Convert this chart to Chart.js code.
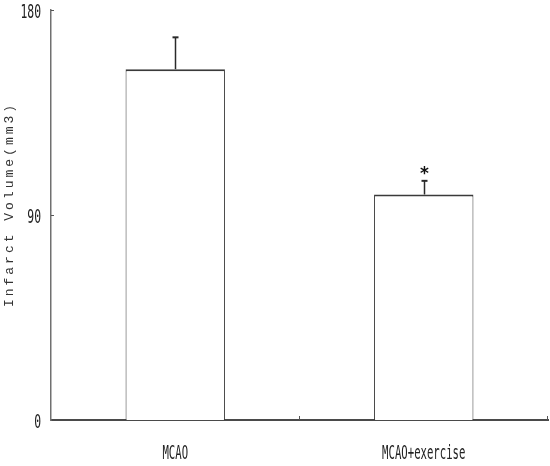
<!DOCTYPE html>
<html><head><meta charset="utf-8">
<script src="https://cdn.jsdelivr.net/npm/chart.js@4"></script>
<style>html,body{margin:0;padding:0;background:#fff;} canvas{display:block;}</style>
</head><body>
<canvas id="c" width="550" height="466"></canvas>
<script>
const categories = ["MCAO", "MCAO+exercise"];
const infarctVolume = [154, 99];
const errorSD = [14, 6];
const significance = ["", "*"];
const yTickValues = [0, 90, 180];
const yTitle = "Infarct Volume(mm3)";

const NARROW_FONT = "19px 'DejaVu Sans Mono', 'Liberation Mono', monospace";
const TITLE_FONT = "13px 'Liberation Mono', 'DejaVu Sans Mono', monospace";

function condensedText(ctx, text, x, y, sx, align) {
  ctx.save();
  ctx.translate(x, y);
  ctx.scale(sx, 1);
  ctx.textAlign = align;
  ctx.fillText(text, 0, 0);
  ctx.restore();
}

const decor = {
  id: 'decor',
  afterDatasetsDraw(chart) {
    const ctx = chart.ctx, xs = chart.scales.x, ys = chart.scales.y;
    ctx.save();
    ctx.strokeStyle = '#2a2a2a';
    categories.forEach((c, i) => {
      const x = Math.round(xs.getPixelForValue(i)) + 0.5;
      const yTop = ys.getPixelForValue(infarctVolume[i]);
      const yErr = ys.getPixelForValue(infarctVolume[i] + errorSD[i]);
      ctx.lineWidth = 1.5;
      ctx.beginPath(); ctx.moveTo(x, yTop); ctx.lineTo(x, yErr); ctx.stroke();
      ctx.lineWidth = 2;
      ctx.beginPath(); ctx.moveTo(x - 3, yErr); ctx.lineTo(x + 3, yErr); ctx.stroke();
      if (significance[i]) {
        ctx.fillStyle = '#111';
        ctx.font = "bold 17px 'DejaVu Sans', sans-serif";
        ctx.textAlign = 'center';
        ctx.textBaseline = 'alphabetic';
        const m = ctx.measureText(significance[i]);
        const cy = yErr - 10;
        const base = cy + (m.actualBoundingBoxAscent - m.actualBoundingBoxDescent) / 2;
        ctx.fillText(significance[i], x, base);
      }
    });
    ctx.restore();
  },
  afterDraw(chart) {
    const ctx = chart.ctx, xs = chart.scales.x, ys = chart.scales.y, area = chart.chartArea;
    ctx.save();
    // y tick marks (inside) and labels
    ctx.strokeStyle = '#555'; ctx.lineWidth = 1;
    ctx.fillStyle = '#222'; ctx.font = NARROW_FONT; ctx.textBaseline = 'middle';
    yTickValues.forEach(v => {
      const y = Math.round(ys.getPixelForValue(v)) + 0.5;
      if (v !== 0) { ctx.beginPath(); ctx.moveTo(area.left, y); ctx.lineTo(area.left + 3, y); ctx.stroke(); }
      condensedText(ctx, String(v), area.left - 10, y + 2.5, 0.6, 'right');
    });
    // x tick marks at category boundaries (upward)
    const p0 = xs.getPixelForValue(0), p1 = xs.getPixelForValue(1);
    const step = p1 - p0;
    categories.forEach((c, i) => {
      const bx = Math.round(xs.getPixelForValue(i) + step / 2) - 0.5;
      ctx.beginPath(); ctx.moveTo(bx, area.bottom); ctx.lineTo(bx, area.bottom - 4); ctx.stroke();
      condensedText(ctx, c, xs.getPixelForValue(i), area.bottom + 34, 0.56, 'center');
    });
    // y title
    ctx.font = TITLE_FONT;
    ctx.fillStyle = '#333';
    ctx.letterSpacing = '3px';
    ctx.translate(10, (area.top + area.bottom) / 2 - 9);
    ctx.rotate(-Math.PI / 2);
    ctx.textAlign = 'center';
    ctx.textBaseline = 'middle';
    ctx.fillText(yTitle, 1.5, 0);
    ctx.restore();
  }
};

new Chart(document.getElementById('c'), {
  type: 'bar',
  data: {
    labels: categories,
    datasets: [{
      data: infarctVolume,
      backgroundColor: '#ffffff',
      borderColor: '#3a3a3a',
      borderWidth: { top: 2, left: 1, right: 1, bottom: 0 },
      borderSkipped: false,
      barPercentage: 0.4,
      categoryPercentage: 1.0
    }]
  },
  options: {
    responsive: false,
    animation: false,
    devicePixelRatio: 1,
    layout: { padding: { top: 10, right: 2, left: 0, bottom: 0 } },
    plugins: { legend: { display: false }, tooltip: { enabled: false }, title: { display: false } },
    scales: {
      x: {
        grid: { display: false, drawTicks: false },
        border: { display: true, color: '#4a4a4a', width: 2 },
        ticks: { display: false },
        afterFit(s) { s.height = 46; }
      },
      y: {
        min: 0, max: 180,
        afterBuildTicks(s) { s.ticks = yTickValues.map(v => ({ value: v })); },
        grid: { display: false, drawTicks: false },
        border: { display: true, color: '#707070', width: 1.5 },
        ticks: { display: false },
        afterFit(s) { s.width = 51; }
      }
    }
  },
  plugins: [decor]
});
</script>
</body></html>
